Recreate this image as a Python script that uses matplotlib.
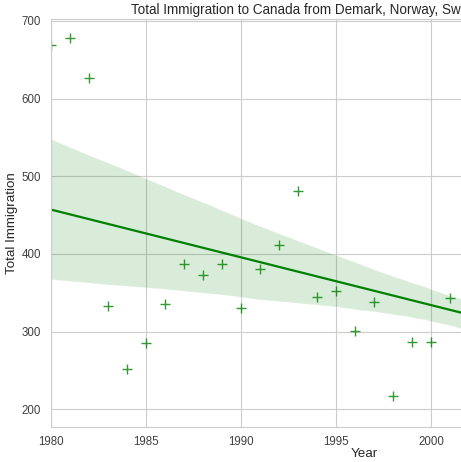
import matplotlib
matplotlib.use('Agg')
import matplotlib.pyplot as plt
import pandas as pd
import seaborn as sns

# combined yearly immigration, Denmark + Norway + Sweden
years = list(range(1980, 2014))
total = [669, 678, 627, 333, 252, 285, 336, 387, 373, 387,
         331, 381, 411, 481, 345, 352, 301, 338, 217, 287,
         287, 343, 293, 327, 291, 324, 293, 363, 339, 323,
         297, 276, 287, 280]

df_total = pd.DataFrame({'year': years, 'total': total})

sns.set_style('whitegrid')
plt.rcParams['font.family'] = ['Liberation Sans', 'DejaVu Sans']

fig = plt.figure(figsize=(4.61, 4.62), dpi=100)
# axes run past the right edge of the picture, as in the original crop
ax = fig.add_axes([51 / 461, 35.3 / 462, 627 / 461, 408 / 462])
sns.regplot(x='year', y='total', data=df_total, color='green', marker='+',
            scatter_kws={'s': 60, 'linewidths': 1}, line_kws={'lw': 1.6},
            seed=0, ax=ax)

ax.set_xlim(1980, 2013)
ax.set_ylim(177.6, 702.9)
ax.tick_params(labelsize=8.3, colors='0.25')
ax.set_xlabel('Year', fontsize=9.6, labelpad=0)
ax.set_ylabel('Total Immigration', fontsize=9.6, labelpad=3)
ax.set_title('Total Immigration to Canada from Demark, Norway, Sweden from 1980 - 2013',
             fontsize=9.75, pad=3.5)

fig.savefig('out.png', dpi=100)
